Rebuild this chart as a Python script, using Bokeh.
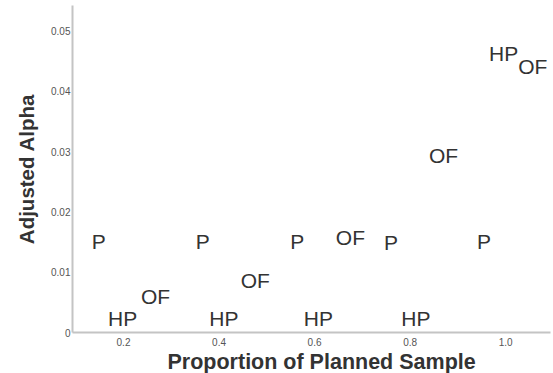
from bokeh.plotting import figure
from bokeh.models import ColumnDataSource, NumeralTickFormatter, FixedTicker, Range1d, Title
from bokeh.embed import file_html
from bokeh.resources import INLINE
from bokeh.core.properties import value

# Data
p_x = [0.148, 0.366, 0.564, 0.760, 0.955]
p_y = [0.0151, 0.0151, 0.0151, 0.0150, 0.0151]
hp_x = [0.198, 0.410, 0.608, 0.812, 0.996]
hp_y = [0.0023, 0.0023, 0.0023, 0.0023, 0.0463]
of_x = [0.267, 0.476, 0.675, 0.870, 1.057]
of_y = [0.0060, 0.0087, 0.0157, 0.0294, 0.0441]
x_ticks = [0.2, 0.4, 0.6, 0.8, 1.0]
y_ticks = [0, 0.01, 0.02, 0.03, 0.04, 0.05]
x_label = "Proportion of Planned Sample"
y_label = "Adjusted Alpha"

xs = p_x + hp_x + of_x
ys = p_y + hp_y + of_y
labels = ["P"] * len(p_x) + ["HP"] * len(hp_x) + ["OF"] * len(of_x)
src = ColumnDataSource(dict(x=xs, y=ys, label=labels))

p = figure(width=553, height=373, output_backend="svg", toolbar_location=None,
           x_range=Range1d(0.0932, 1.094), y_range=Range1d(0, 0.0542),
           min_border_left=72, min_border_right=3, min_border_top=5, min_border_bottom=0)
p.outline_line_color = None
p.xgrid.visible = False
p.ygrid.visible = False

p.text(x="x", y="y", text="label", source=src, text_align="center", text_baseline="middle",
       text_font=value("Liberation Sans"), text_font_size="21px", text_color="#333333")

for ax in (p.xaxis[0], p.yaxis[0]):
    ax.axis_line_color = "#c4c4c4"
    ax.axis_line_width = 2
    ax.major_tick_line_color = None
    ax.minor_tick_line_color = None
    ax.major_tick_out = 0
    ax.major_tick_in = 0
    ax.minor_tick_out = 0
    ax.minor_tick_in = 0
    ax.major_label_text_font = "Liberation Sans"
    ax.major_label_text_font_size = "10px"
    ax.major_label_text_color = "#555555"

p.xaxis.ticker = FixedTicker(ticks=x_ticks)
p.yaxis.ticker = FixedTicker(ticks=y_ticks)
p.xaxis.formatter = NumeralTickFormatter(format="0.0")
p.yaxis.formatter = NumeralTickFormatter(format="0.[00]")
p.xaxis.major_label_standoff = 5
p.yaxis.major_label_standoff = 2

xt = Title(text=x_label, align="left", offset=95, standoff=-1,
           text_font="Liberation Sans", text_font_style="bold",
           text_font_size="21.5px", text_color="#333333")
yt = Title(text=y_label, align="center", standoff=22,
           text_font="Liberation Sans", text_font_style="bold",
           text_font_size="20.5px", text_color="#333333")
p.add_layout(xt, "below")
p.add_layout(yt, "left")

open("out.html", "w").write(file_html(p, INLINE))
